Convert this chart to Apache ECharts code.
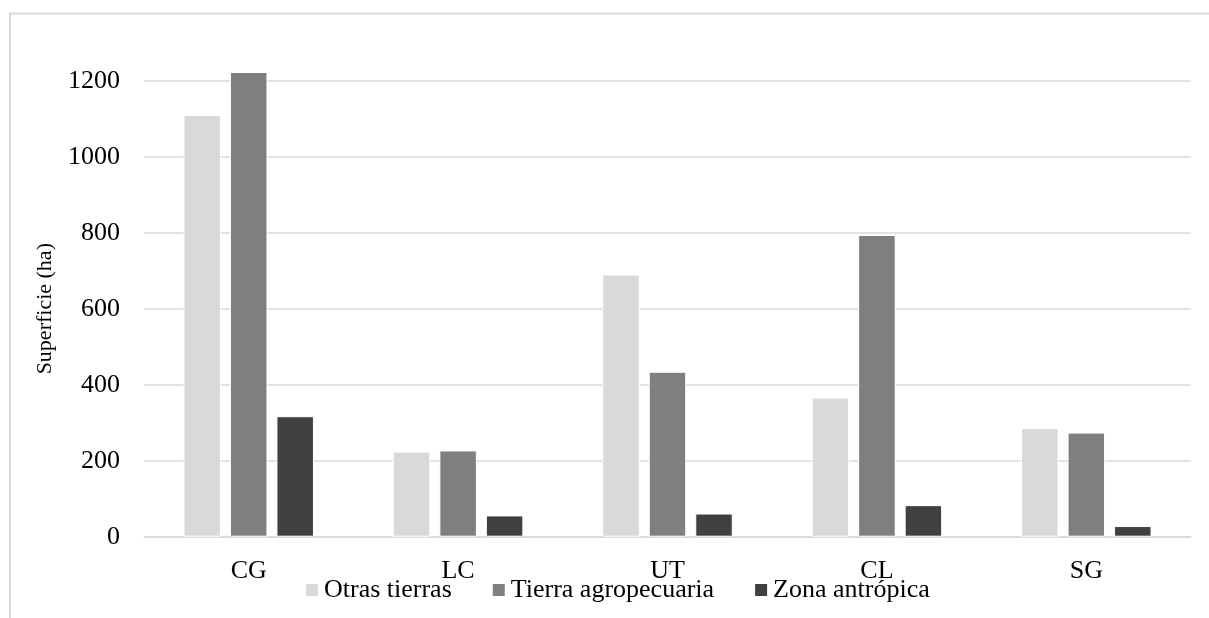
<!DOCTYPE html>
<html>
<head>
<meta charset="utf-8">
<title>Superficie por uso de suelo</title>
<script src="https://cdn.jsdelivr.net/npm/echarts@6/dist/echarts.min.js"></script>
<style>
  html, body { margin: 0; padding: 0; background: #ffffff; }
  #chart { width: 1209px; height: 618px; }
</style>
</head>
<body>
<div id="chart"></div>
<script>
// Land-use surface (ha) per zone
const categories = ['CG', 'LC', 'UT', 'CL', 'SG'];
const otrasTierras = [1110, 224, 690, 366, 286];
const tierraAgropecuaria = [1223, 227, 434, 794, 274];
const zonaAntropica = [317, 56, 61, 83, 28];
const seriesNames = ['Otras tierras', 'Tierra agropecuaria', 'Zona antrópica'];
const seriesColors = ['#d9d9d9', '#7f7f7f', '#404040'];

const FONT = '"Liberation Serif", "Times New Roman", serif';
const chart = echarts.init(document.getElementById('chart'), null, { renderer: 'canvas' });

function barSeries(name, data, color) {
  return {
    name: name,
    type: 'bar',
    data: data,
    clip: false,
    barWidth: 37.5,
    barGap: '24%',
    itemStyle: { color: color, borderColor: '#ffffff', borderWidth: 1 },
    emphasis: { disabled: true }
  };
}

chart.setOption({
  backgroundColor: '#ffffff',
  animation: false,
  textStyle: { fontFamily: FONT },
  graphic: [{
    type: 'rect',
    shape: { x: 10, y: 13.5, width: 1300, height: 700 },
    style: { fill: 'none', stroke: '#d9d9d9', lineWidth: 2 },
    silent: true,
    z: -1
  }],
  grid: { left: 144, right: 18, top: 80.7, height: 456, containLabel: false },
  legend: {
    data: seriesNames,
    left: 299,
    top: 572,
    icon: 'rect',
    itemWidth: 14,
    itemHeight: 14,
    itemGap: 39,
    textStyle: { fontFamily: FONT, fontSize: 26, color: '#000', lineHeight: 26 }
  },
  xAxis: {
    type: 'category',
    data: categories,
    axisLine: { lineStyle: { color: '#d9d9d9', width: 1.5 } },
    axisTick: { show: false },
    axisLabel: { fontFamily: FONT, fontSize: 26, color: '#000', margin: 21 }
  },
  yAxis: {
    type: 'value',
    min: 0,
    max: 1200,
    interval: 200,
    name: 'Superficie (ha)',
    nameLocation: 'middle',
    nameRotate: 90,
    nameGap: 88,
    nameTextStyle: { fontFamily: FONT, fontSize: 22, color: '#000' },
    axisLine: { show: false },
    axisTick: { show: false },
    axisLabel: {
      fontFamily: FONT, fontSize: 26, color: '#000', margin: 24,
      formatter: function (v) { return String(v); }
    },
    splitLine: { lineStyle: { color: '#d9d9d9', width: 1.5 } }
  },
  series: [
    barSeries(seriesNames[0], otrasTierras, seriesColors[0]),
    barSeries(seriesNames[1], tierraAgropecuaria, seriesColors[1]),
    barSeries(seriesNames[2], zonaAntropica, seriesColors[2])
  ]
});
</script>
</body>
</html>
